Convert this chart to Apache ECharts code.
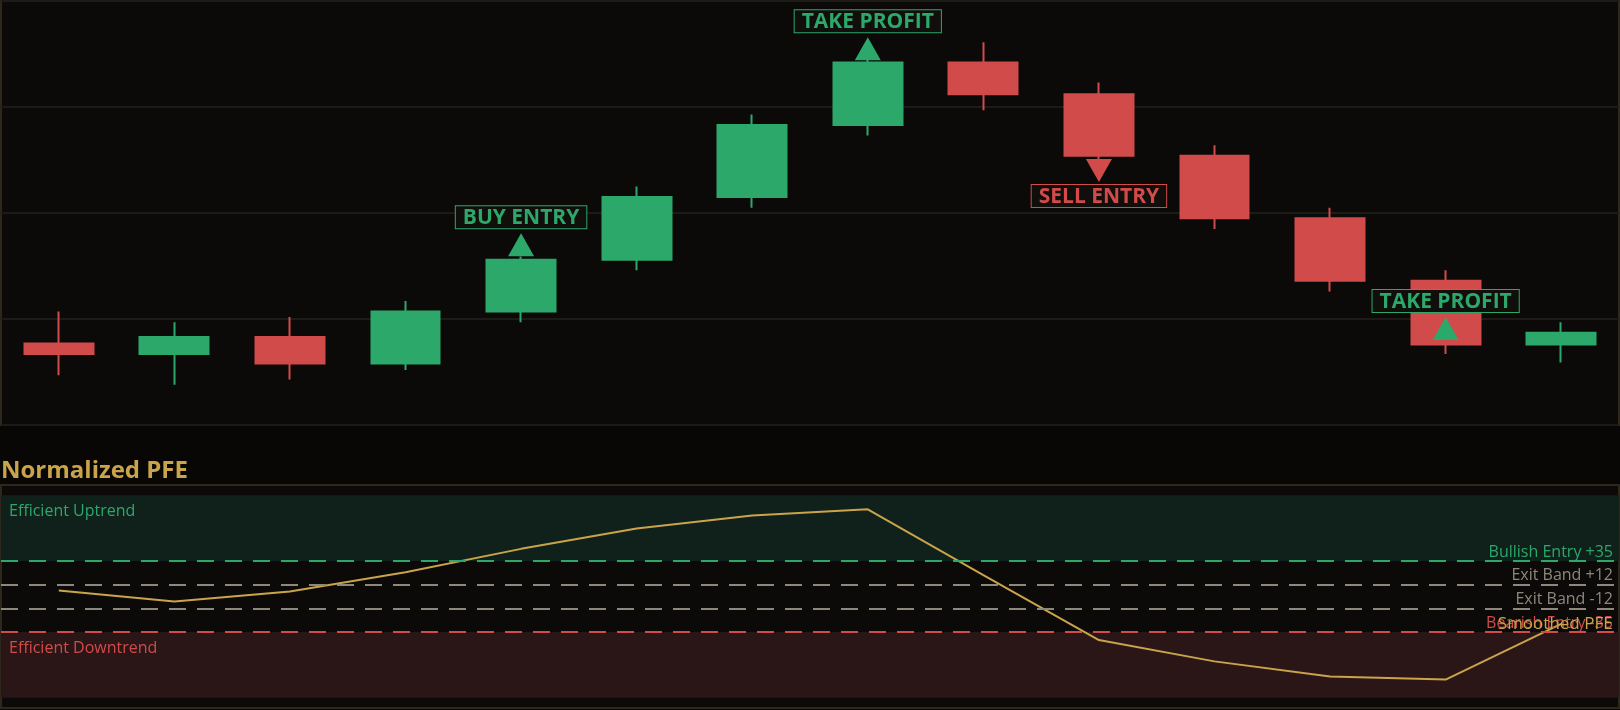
<!DOCTYPE html>
<html>
<head>
<meta charset="utf-8">
<title>Normalized PFE</title>
<script src="https://cdn.jsdelivr.net/npm/echarts@6/dist/echarts.min.js"></script>
<style>
    html, body { margin: 0; padding: 0; background: #080706; }
    #chart { width: 1620px; height: 710px; }
</style>
</head>
<body>
<div id="chart"></div>
<script>
// Price bars (one per session)
const sessions = ['S1', 'S2', 'S3', 'S4', 'S5', 'S6', 'S7', 'S8', 'S9', 'S10', 'S11', 'S12', 'S13', 'S14'];
const openPrices  = [107.7, 106.7, 108.3, 105.8, 110.7, 115.6, 121.5, 128.3, 134.2, 131.2, 125.4, 119.5, 113.6, 107.6];
const closePrices = [106.7, 108.3, 105.8, 110.7, 115.6, 121.5, 128.3, 134.2, 131.2, 125.4, 119.5, 113.6, 107.6, 108.7];
const lowPrices   = [104.7, 103.8, 104.3, 105.2, 109.7, 114.6, 120.5, 127.3, 129.7, 124.9, 118.5, 112.6, 106.7, 105.9];
const highPrices  = [110.7, 109.7, 110.2, 111.7, 115.9, 122.5, 129.3, 134.5, 136.1, 132.3, 126.4, 120.5, 114.6, 109.7];

// Trade signals drawn on the price panel
const signalIndex = [4, 7, 9, 12];
const signalPrice = [117.0, 135.5, 124.0, 109.1];
const signalText  = ['BUY ENTRY', 'TAKE PROFIT', 'SELL ENTRY', 'TAKE PROFIT'];
const signalDir   = ['up', 'up', 'down', 'up'];

// Smoothed PFE oscillator
const pfeValues = [6, -5, 5, 24, 47, 67, 80, 86, 21, -43, -64, -79, -82, -27];

// Threshold lines and zones
const bandLevels = [35, 12, -12, -35];
const bandLabels = ['Bullish Entry +35', 'Exit Band +12', 'Exit Band -12', 'Bearish Entry -35'];
const zoneRanges = [[35, 100], [-100, -35]];
const zoneLabels = ['Efficient Uptrend', 'Efficient Downtrend'];

const GREEN = '#2ca86a';
const RED = '#d14b4b';
const GREY = '#8e887c';
const GOLD = '#c9a44a';
const FONT = 'Open Sans';

document.addEventListener('DOMContentLoaded', function() {
    initializePfeChart();
});

function initializePfeChart() {
    const chart = echarts.init(document.getElementById('chart'));

    const candles = sessions.map((s, i) => [openPrices[i], closePrices[i], lowPrices[i], highPrices[i]]);

    const signals = signalIndex.map((idx, i) => {
        const color = signalDir[i] === 'up' ? GREEN : RED;
        return {
            value: [idx, signalPrice[i]],
            symbolRotate: signalDir[i] === 'up' ? 0 : 180,
            itemStyle: { color: color, opacity: 1 },
            label: {
                show: true,
                formatter: signalText[i],
                position: signalDir[i] === 'up' ? 'top' : 'bottom',
                distance: signalDir[i] === 'up' ? 5 : 3,
                color: color,
                borderColor: color,
                borderWidth: 1,
                backgroundColor: '#100f0c',
                padding: [1, 7, 0, 7],
                fontFamily: FONT,
                fontSize: 21,
                fontWeight: 'bold'
            }
        };
    });

    const bandColors = [GREEN, GREY, GREY, RED];
    const markLines = bandLevels.map((lvl, i) => ({
        yAxis: lvl,
        lineStyle: { color: bandColors[i], type: [17, 11], width: 2 },
        label: {
            show: true,
            position: 'insideEndTop',
            distance: [6, 1],
            formatter: bandLabels[i],
            color: bandColors[i],
            fontFamily: FONT,
            fontSize: 16
        }
    }));

    const zoneColors = ['#10201a', '#2a1617'];
    const zoneTextColors = [GREEN, RED];
    const markAreas = zoneRanges.map((r, i) => [
        {
            yAxis: r[1],
            itemStyle: { color: zoneColors[i] },
            label: {
                show: true,
                position: 'insideTopLeft',
                distance: 8,
                formatter: zoneLabels[i],
                color: zoneTextColors[i],
                fontFamily: FONT,
                fontSize: 16
            }
        },
        { yAxis: r[0] }
    ]);

    const option = {
        backgroundColor: '#080706',
        animation: false,
        title: {
            text: 'Normalized PFE',
            left: -4,
            top: 454,
            textStyle: { color: GOLD, fontFamily: FONT, fontSize: 24, fontWeight: 'bold' }
        },
        grid: [
            {
                left: 1, right: 1, top: 1, height: 424,
                show: true, backgroundColor: '#0b0a08', borderColor: '#2e281c', borderWidth: 2
            },
            {
                left: 1, right: 1, top: 485, height: 223,
                show: true, backgroundColor: '#0b0a08', borderColor: '#2e281c', borderWidth: 2
            }
        ],
        xAxis: [
            {
                type: 'category', gridIndex: 0, data: sessions, boundaryGap: true,
                axisLine: { show: false }, axisTick: { show: false }, axisLabel: { show: false }
            },
            {
                type: 'category', gridIndex: 1, data: sessions, boundaryGap: true,
                axisLine: { show: false }, axisTick: { show: false }, axisLabel: { show: false }
            }
        ],
        yAxis: [
            {
                type: 'value', gridIndex: 0, min: 100, max: 140, interval: 10,
                axisLine: { show: false }, axisTick: { show: false }, axisLabel: { show: false },
                splitLine: { lineStyle: { color: '#1d1b17', width: 2 } }
            },
            {
                type: 'value', gridIndex: 1, min: -110, max: 110,
                axisLine: { show: false }, axisTick: { show: false }, axisLabel: { show: false },
                splitLine: { show: false }
            }
        ],
        series: [
            {
                name: 'Price',
                type: 'candlestick',
                xAxisIndex: 0, yAxisIndex: 0,
                data: candles,
                barWidth: '60%',
                itemStyle: {
                    color: GREEN, color0: RED,
                    borderColor: GREEN, borderColor0: RED,
                    borderWidth: 2
                }
            },
            {
                name: 'Signals',
                type: 'scatter',
                xAxisIndex: 0, yAxisIndex: 0,
                symbol: 'triangle',
                symbolSize: [26, 23],
                z: 5,
                data: signals
            },
            {
                name: 'Smoothed PFE',
                type: 'line',
                xAxisIndex: 1, yAxisIndex: 1,
                data: pfeValues,
                showSymbol: false,
                lineStyle: { color: GOLD, width: 2 },
                z: 4,
                markArea: { silent: true, data: markAreas },
                markLine: { silent: true, symbol: ['none', 'none'], data: markLines },
                markPoint: {
                    silent: true,
                    symbol: 'circle',
                    symbolSize: 1,
                    itemStyle: { color: 'rgba(0,0,0,0)' },
                    data: [{
                        coord: [sessions.length - 1, pfeValues[pfeValues.length - 1]],
                        label: {
                            show: true,
                            position: 'inside',
                            offset: [-6, 0],
                            formatter: 'Smoothed PFE',
                            color: GOLD,
                            fontFamily: FONT,
                            fontSize: 17
                        }
                    }]
                }
            }
        ]
    };

    chart.setOption(option);

    window.addEventListener('resize', () => {
        chart.resize();
    });
}
</script>
</body>
</html>
